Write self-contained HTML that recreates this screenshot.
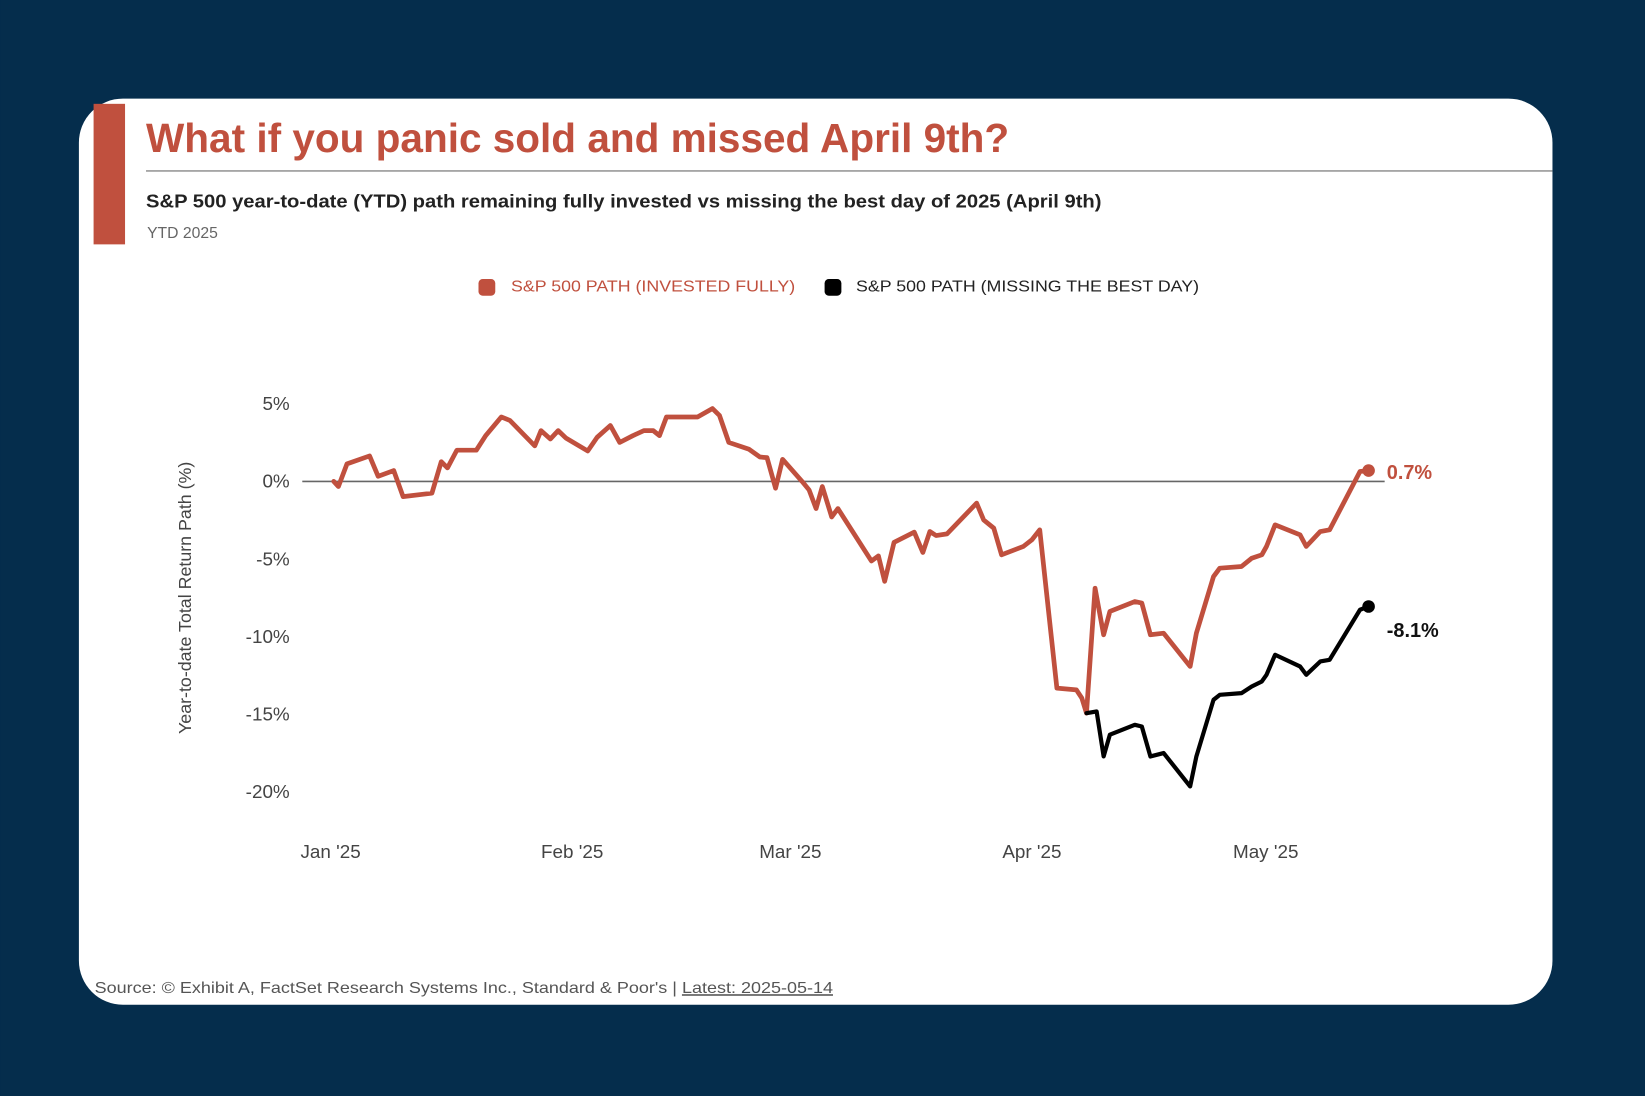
<!DOCTYPE html>
<html><head><meta charset="utf-8">
<style>
html,body{margin:0;padding:0;background:#052d4c;width:1645px;height:1096px;overflow:hidden}
svg{display:block;font-family:"Liberation Sans",sans-serif}
</style></head>
<body>
<svg id="chart" width="1645" height="1096" viewBox="0 0 1568 1045" xmlns="http://www.w3.org/2000/svg">
<rect x="0" y="0" width="1568" height="1045" fill="#052d4c"/>
<rect x="75" y="94" width="1405" height="864" rx="42" fill="#ffffff"/>
<rect x="89" y="99" width="30" height="134" fill="#c0503e"/>
<text x="139" y="145" font-size="39" font-weight="bold" fill="#c0503e" textLength="823" lengthAdjust="spacingAndGlyphs">What if you panic sold and missed April 9th?</text>
<line x1="139" y1="163" x2="1480" y2="163" stroke="#9a9a9a" stroke-width="1.5"/>
<text x="139" y="198" font-size="18" font-weight="bold" fill="#222" textLength="911" lengthAdjust="spacingAndGlyphs">S&amp;P 500 year-to-date (YTD) path remaining fully invested vs missing the best day of 2025 (April 9th)</text>
<text x="140" y="227" font-size="15" fill="#666">YTD 2025</text>
<g>
<g>
<rect x="456" y="266" width="16" height="16" rx="4" fill="#c0503e"/>
<text x="487" y="278" font-size="15" fill="#c0503e" textLength="271" lengthAdjust="spacingAndGlyphs">S&amp;P 500 PATH (INVESTED FULLY)</text>
</g>
<g>
<rect x="786" y="266" width="16" height="16" rx="4" fill="#000"/>
<text x="816" y="278" font-size="15" fill="#222" textLength="327" lengthAdjust="spacingAndGlyphs">S&amp;P 500 PATH (MISSING THE BEST DAY)</text>
</g>
</g>
<text transform="translate(182,570) rotate(-90)" text-anchor="middle" font-size="17" fill="#444">Year-to-date Total Return Path (%)</text>
<g id="yticks"></g>
<g id="xticks"></g>
<line id="zeroline" stroke="#666" stroke-width="1.5"/>
<g id="series"></g>
<text x="90" y="947" font-size="15" fill="#555" textLength="704" lengthAdjust="spacingAndGlyphs">Source: © Exhibit A, FactSet Research Systems Inc., Standard &amp; Poor's | <tspan text-decoration="underline">Latest: 2025-05-14</tspan></text>
</svg>
<script>
const investedDays = [1.4,2,3.1,6,7.1,9.1,10.3,14,15.2,16,17.2,19.7,20.9,22.9,24,27.2,28,29.2,30.2,31.2,34,35.2,36.9,38.1,39.8,41.2,42.4,43.2,44.1,48.1,50,50.9,52.1,54.7,56.1,57,58.1,59,61.5,62.4,63.3,64.1,65.3,66.1,70.4,71.3,72.1,73.3,75.9,77,77.9,78.7,80.1,83.9,84.8,86.1,87.1,89.9,91,92,94.2,96.7,97.4,98,99.1,100.2,101,104.2,105.1,106.2,107.9,111.3,112.1,114.3,115.1,117.9,119.2,120.5,121.1,122.2,125.4,126.2,128,129.2,133.1,134.2];
const investedValues = [0,-0.33,1.13,1.64,0.33,0.7,-0.98,-0.76,1.27,0.87,2.01,2.01,2.95,4.15,3.93,2.29,3.27,2.73,3.27,2.79,1.96,2.84,3.6,2.51,2.95,3.27,3.27,2.95,4.15,4.15,4.69,4.25,2.51,2.07,1.57,1.53,-0.44,1.42,0,-0.55,-1.75,-0.33,-2.29,-1.75,-5.13,-4.8,-6.44,-3.93,-3.27,-4.58,-3.23,-3.49,-3.38,-1.4,-2.48,-3.01,-4.73,-4.19,-3.76,-3.12,-13.32,-13.43,-13.96,-14.93,-6.88,-9.88,-8.38,-7.74,-7.84,-9.88,-9.78,-11.92,-9.78,-6.13,-5.59,-5.48,-4.95,-4.73,-4.19,-2.8,-3.44,-4.19,-3.23,-3.12,0.64,0.7];
const missingDays = [98,99.3,100.2,101,104.2,105.1,106.2,107.9,111.3,112.1,114.3,115.1,117.9,119.2,120.5,121.1,122.2,125.4,126.2,128,129.2,133.1,134.2];
const missingValues = [-14.93,-14.82,-17.72,-16.32,-15.68,-15.79,-17.72,-17.5,-19.65,-17.72,-14.07,-13.75,-13.64,-13.21,-12.89,-12.46,-11.17,-11.92,-12.46,-11.6,-11.49,-8.27,-8.06];
const yTicks = [5,0,-5,-10,-15,-20];
const xTickDays = [1,32,60,91,121];
const xTickLabels = ["Jan '25","Feb '25","Mar '25","Apr '25","May '25"];
const endLabels = ["0.7%","-8.1%"];

const NS="http://www.w3.org/2000/svg";
function xs(d){return 315+7.43*(d-1);}
function ys(v){return 459-14.8*v;}
function mk(tag,attrs,parent){const e=document.createElementNS(NS,tag);for(const k in attrs)e.setAttribute(k,attrs[k]);parent.appendChild(e);return e;}

const yg=document.getElementById('yticks');
yTicks.forEach(v=>{
  const t=mk('text',{x:276,y:ys(v)+6,'text-anchor':'end','font-size':18,fill:'#444'},yg);
  
  
  t.textContent=v+'%';
});
const xg=document.getElementById('xticks');
xTickDays.forEach((d,i)=>{
  const t=mk('text',{x:xs(d),y:818,'text-anchor':'middle','font-size':18,fill:'#444'},xg);
  
  
  t.textContent=xTickLabels[i];
});
const zl=document.getElementById('zeroline');
zl.setAttribute('x1',288);zl.setAttribute('x2',1320);zl.setAttribute('y1',ys(0));zl.setAttribute('y2',ys(0));

const sg=document.getElementById('series');
function line(days,vals,color,w,name){
  const p=mk('polyline',{points:days.map((d,i)=>xs(d)+','+ys(vals[i])).join(' '),fill:'none',stroke:color,'stroke-width':w,'stroke-linejoin':'round','stroke-linecap':'round'},sg);
  
  
}
line(investedDays,investedValues,'#c0503e',4.5,'invested-line');
line(missingDays,missingValues,'#000',4,'missing-line');
const li=investedDays.length-1, lm=missingDays.length-1;
const d1=mk('circle',{cx:xs(investedDays[li]),cy:ys(investedValues[li]),r:6,fill:'#c0503e'},sg);


const d2=mk('circle',{cx:xs(missingDays[lm]),cy:ys(missingValues[lm]),r:6,fill:'#000'},sg);


const l1=mk('text',{x:1322,y:ys(investedValues[li])+8,'font-size':19,'font-weight':'bold',fill:'#c0503e'},sg);


l1.textContent=endLabels[0];
const l2=mk('text',{x:1322,y:ys(missingValues[lm])+29,'font-size':19,'font-weight':'bold',fill:'#111'},sg);


l2.textContent=endLabels[1];
</script>
</body></html>
